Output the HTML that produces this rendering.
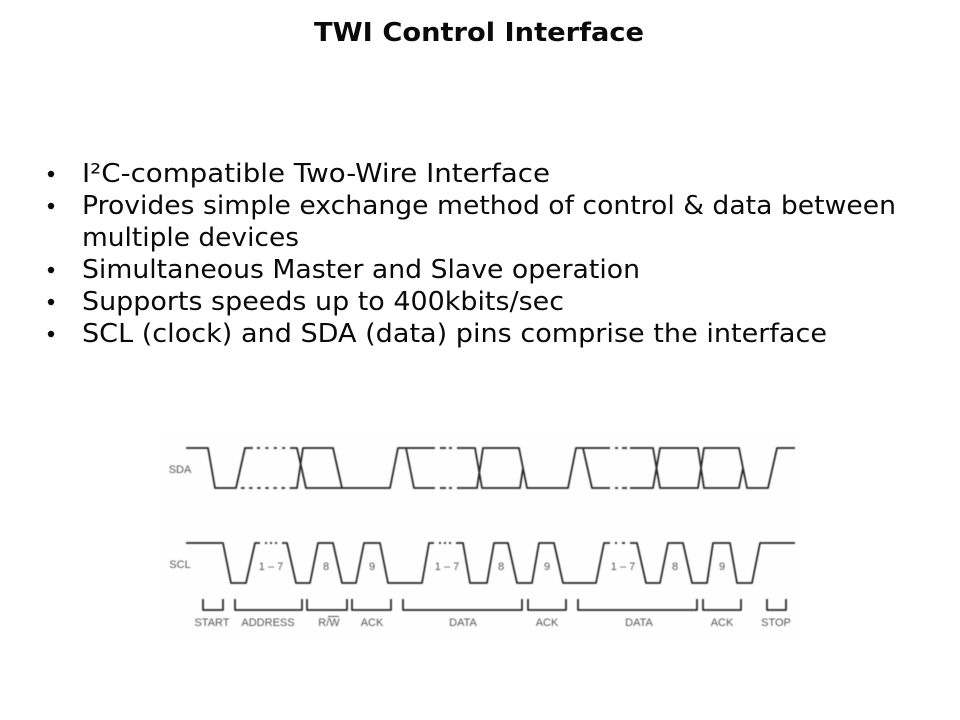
<!DOCTYPE html>
<html lang="en">
<head>
<meta charset="utf-8">
<title>TWI Control Interface</title>
<style>
html,body{margin:0;padding:0;background:#fff;width:960px;height:720px;overflow:hidden}
svg{display:block}
.t{font-family:"DejaVu Sans",Verdana,sans-serif;fill:#0a0a0a}
.b{font-size:26px}
.h{font-size:26px;font-weight:bold}
.w{fill:none;stroke:#2a2a2a;stroke-width:1.8;stroke-linejoin:round}
.l{font-family:"Liberation Sans",Arial,sans-serif;font-size:11px;fill:#555;text-anchor:middle}
</style>
</head>
<body>
<svg width="960" height="720" viewBox="0 0 960 720" xmlns="http://www.w3.org/2000/svg">
<defs><filter id="bl" filterUnits="userSpaceOnUse" x="0" y="400" width="960" height="320"><feGaussianBlur stdDeviation="0.45"/></filter></defs>
<rect x="160" y="435" width="640" height="200" fill="#fefefe"/>

<text class="t h" x="314" y="41" textLength="330" lengthAdjust="spacingAndGlyphs">TWI Control Interface</text>

<g fill="#0a0a0a">
<circle cx="51" cy="174" r="3.2"/><circle cx="51" cy="206" r="3.2"/><circle cx="51" cy="270" r="3.2"/><circle cx="51" cy="302" r="3.2"/><circle cx="51" cy="334" r="3.2"/>
</g>
<text class="t b" x="82" y="182" textLength="468" lengthAdjust="spacingAndGlyphs">I²C-compatible Two-Wire Interface</text>
<text class="t b" x="82" y="214" textLength="814" lengthAdjust="spacingAndGlyphs">Provides simple exchange method of control &amp; data between</text>
<text class="t b" x="82" y="246" textLength="217" lengthAdjust="spacingAndGlyphs">multiple devices</text>
<text class="t b" x="82" y="278" textLength="558" lengthAdjust="spacingAndGlyphs">Simultaneous Master and Slave operation</text>
<text class="t b" x="82" y="310" textLength="482" lengthAdjust="spacingAndGlyphs">Supports speeds up to 400kbits/sec</text>
<text class="t b" x="82" y="342" textLength="745" lengthAdjust="spacingAndGlyphs">SCL (clock) and SDA (data) pins comprise the interface</text>

<g filter="url(#bl)">
<!-- SDA -->
<path class="w" d="M186 448H208L215 488H236L245 448H253M290 448H297L306 488H390L398 448H435M406 448L414 488H435"/>
<path class="w" d="M290 488H297L303 448H333L342 488"/>
<path class="w" d="M457 448H475L482 488H520L523 468M457 488H477L483 448H519L527 488H568L576 448H610M583 448L592 488H610"/>
<path class="w" d="M630 448H653L660 488H698L704 448H739L747 488H768L777 448H795"/>
<path class="w" d="M630 488H653L660 448H698L704 488H739L743 468"/>
<path class="w" stroke-dasharray="3 5.4" d="M257 448H288"/>
<path class="w" stroke-dasharray="3.5 4.6" d="M241 488H290"/>
<path class="w" d="M440 448H446M449 448H452M440 488H446M449 488H452M615 448H618M622 448H627M615 488H618M622 488H627"/>

<!-- SCL -->
<path class="w" d="M186 543H223L231 583H246L255 543H260M282 543H287L296 583H310L318 543H333L342 583H356L364 543H380L388 583H422L429 543H434M456 543H463L470 583H487L494 543H508L517 583H532L539 543H554L563 583H596L604 543H610M630 543H637L646 583H660L668 543H683L692 583H707L713 543H730L737 583H752L760 543H795"/>
<path class="w" d="M265 543H267M270 543H272M275 543H277M439 543H441M444 543H446M449 543H451M615 543H617M622 543H625"/>

<!-- brackets -->
<path class="w" d="M203 599V610H223V599M235 599V610H302V599M307 599V610H347V599M352 599V610H391V599M403 599V610H522V599M528 599V610H566V599M578 599V610H697V599M703 599V610H741V599M767 599V610H786V599"/>

<!-- labels -->
<text class="l" x="180" y="473">SDA</text>
<text class="l" x="180" y="568">SCL</text>
<text class="l" x="271" y="570">1 – 7</text>
<text class="l" x="326" y="570">8</text>
<text class="l" x="372" y="570">9</text>
<text class="l" x="447" y="570">1 – 7</text>
<text class="l" x="501" y="570">8</text>
<text class="l" x="547" y="570">9</text>
<text class="l" x="623" y="570">1 – 7</text>
<text class="l" x="675" y="570">8</text>
<text class="l" x="722" y="570">9</text>
<text class="l" x="212" y="626">START</text>
<text class="l" x="268" y="626">ADDRESS</text>
<text class="l" x="329" y="626">R/W</text>
<text class="l" x="372" y="626">ACK</text>
<text class="l" x="463" y="626">DATA</text>
<text class="l" x="547" y="626">ACK</text>
<text class="l" x="639" y="626">DATA</text>
<text class="l" x="722" y="626">ACK</text>
<text class="l" x="776" y="626">STOP</text>
<path d="M328 616.5H339" fill="none" stroke="#555" stroke-width="1"/>
</g>
</svg>
</body>
</html>
